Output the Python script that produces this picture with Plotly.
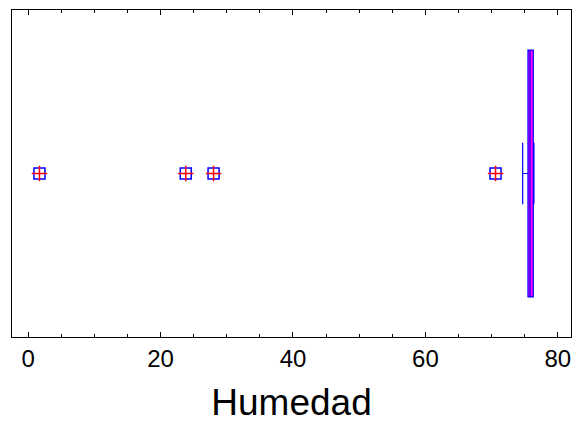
import plotly.graph_objects as go

# Box-and-whisker summary for "Humedad"
variable = "Humedad"
q1 = [75.5]
median = [75.8]
q3 = [76.3]
lower_whisker = [74.7]
upper_whisker = [76.4]
outliers = [1.7, 23.8, 28.0, 70.6]
tick_values = [0, 20, 40, 60, 80]
tick_labels = ["0", "20", "40", "60", "80"]

pos = [0]
fig = go.Figure()
fig.add_trace(go.Box(
    q1=q1, median=median, q3=q3,
    lowerfence=lower_whisker, upperfence=upper_whisker,
    y=pos, orientation="h",
    width=0.755, whiskerwidth=0.25,
    boxpoints=False,
    line=dict(color="#0000FF", width=1.2),
    fillcolor="#FF00FF",
    showlegend=False,
))
fig.add_trace(go.Scatter(
    x=outliers, y=pos * len(outliers), mode="markers",
    marker=dict(symbol="square-open", size=11, color="#0000FF",
                line=dict(color="#0000FF", width=1.5)),
    showlegend=False,
))
fig.add_trace(go.Scatter(
    x=outliers, y=pos * len(outliers), mode="markers",
    marker=dict(symbol="cross-thin-open", size=11, color="#FF0000",
                line=dict(color="#FF0000", width=1.5)),
    showlegend=False,
))

fig.update_layout(
    width=573, height=423,
    margin=dict(l=12, r=2, t=10, b=86, pad=0),
    paper_bgcolor="white", plot_bgcolor="white",
    font=dict(family="Liberation Sans, Arial, sans-serif", color="black"),
)
fig.update_xaxes(
    automargin=False,
    range=[-2.45, 82.0],
    tickvals=tick_values, ticktext=tick_labels,
    ticks="inside", ticklen=5, tickcolor="black", tickwidth=1,
    minor=dict(dtick=5, ticks="inside", ticklen=3, tickcolor="black", showgrid=False),
    showline=True, linecolor="black", linewidth=1, mirror="ticks",
    showgrid=False, zeroline=False,
    tickfont=dict(size=24),
    title=dict(text=variable, font=dict(size=37), standoff=18),
)
fig.update_yaxes(
    automargin=False,
    range=[-0.5, 0.5],
    showticklabels=False, ticks="",
    showline=True, linecolor="black", linewidth=1, mirror=True,
    showgrid=False, zeroline=False,
)

fig.write_html(
    "out.html",
    config={"displayModeBar": False},
    post_script="document.body.style.margin='0';document.body.style.overflow='hidden';",
)
